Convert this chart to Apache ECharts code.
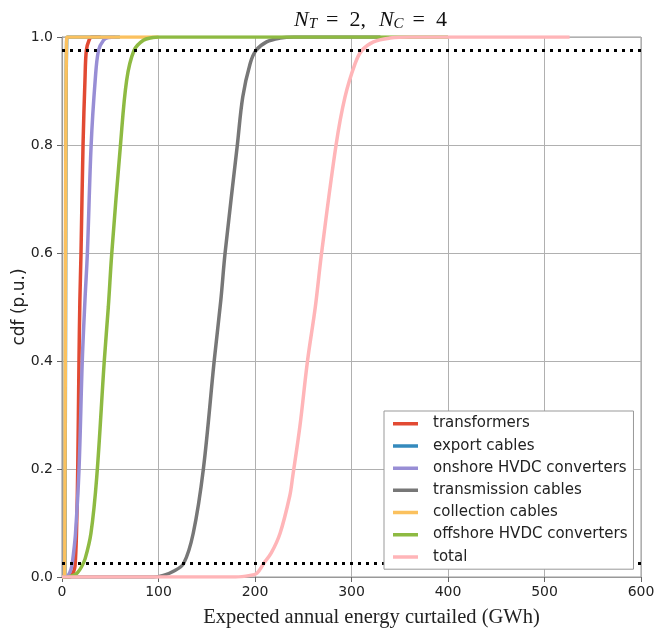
<!DOCTYPE html>
<html>
<head>
<meta charset="utf-8">
<script src="https://cdn.jsdelivr.net/npm/echarts@6/dist/echarts.min.js"></script>
<style>
html,body{margin:0;padding:0;background:#fff;}
#chart{width:654px;height:633px;}
</style>
</head>
<body>
<div id="chart"></div>
<script>
// ---- data (x: GWh, y: cdf) ----
const seriesNames = ['transformers','export cables','onshore HVDC converters','transmission cables','collection cables','offshore HVDC converters','total'];
const seriesColors = ['#E24A33','#348ABD','#988ED5','#777777','#FBC15E','#8EBA42','#FFB5B8'];

const transformers = [[0,0],[8,0],[10,0.003],[12,0.01],[13.5,0.02],[15,0.08],[16.3,0.2],[17.6,0.4],[18.5,0.51],[19.7,0.6],[21.8,0.8],[23.8,0.92],[25.2,0.975],[28,0.994],[31,1],[40,1]];
const exportCables = [[0,0],[2.8,0],[3.3,0.2],[3.8,0.6],[4.3,0.9],[4.8,0.99],[5.5,1],[60,1]];
const onshoreConv = [[0,0],[4,0],[6,0.002],[8,0.008],[10,0.019],[12,0.045],[14,0.081],[17.6,0.198],[21,0.4],[23.8,0.513],[26.3,0.6],[30.2,0.8],[34.4,0.92],[37.8,0.975],[43,0.994],[48,0.999],[55,1]];
const transmission = [[0,0],[95,0],[105,0.003],[115,0.01],[126,0.025],[136,0.081],[146.5,0.2],[157.7,0.4],[164.6,0.513],[169,0.6],[181.7,0.8],[187.3,0.889],[195,0.951],[201,0.975],[212,0.991],[226,0.998],[240,1],[330,1]];
const collection = [[0,0],[2.6,0],[3.0,0.1],[3.4,0.4],[3.8,0.7],[4.2,0.9],[4.6,0.98],[5.2,1],[100,1]];
const offshoreConv = [[0,0],[5,0],[8,0.001],[12,0.003],[16,0.008],[20,0.018],[24,0.034],[30,0.081],[36,0.185],[43.8,0.4],[48,0.5],[51.6,0.6],[60.6,0.8],[67,0.92],[74.6,0.975],[84.3,0.994],[94,0.999],[100,1],[400,1]];
const total = [[0,0],[180,0],[195,0.003],[202,0.007],[209,0.025],[217,0.045],[226,0.081],[236,0.15],[239,0.185],[246.6,0.28],[254.4,0.4],[262.5,0.5],[269,0.6],[284,0.8],[293.3,0.889],[303.8,0.951],[310.7,0.975],[322.8,0.991],[340,0.998],[360,1],[526,1]];

const seriesData = [transformers, exportCables, onshoreConv, transmission, collection, offshoreConv, total];

const lowerBound = [[0,0.025],[600,0.025]];
const upperBound = [[0,0.975],[600,0.975]];

const xTicks = {min:0, max:600, interval:100};
const yTicks = {min:0, max:1, interval:0.2};

const chart = echarts.init(document.getElementById('chart'), null, {renderer:'canvas'});

const series = seriesNames.map((name, i) => ({
  name: name,
  type: 'line',
  data: seriesData[i],
  showSymbol: false,
  symbol: 'none',
  smooth: 0.35,
  color: seriesColors[i],
  lineStyle: {width: 3.5, color: seriesColors[i]},
  z: 2 + i * 0.01,
  animation: false
}));

[lowerBound, upperBound].forEach((d, k) => {
  series.push({
    name: 'bound' + k,
    type: 'line',
    data: d,
    showSymbol: false,
    symbol: 'none',
    color: '#000',
    lineStyle: {width: 3, color: '#000', type: [3, 5]},
    z: 5,
    animation: false
  });
});

const option = {
  backgroundColor: '#fff',
  animation: false,
  grid: {left: 62, right: 13, top: 37, bottom: 56, show: true, borderColor: '#999', borderWidth: 1, containLabel: false, outerBoundsMode: 'none'},
  xAxis: {
    type: 'value', min: xTicks.min, max: xTicks.max, interval: xTicks.interval,
    name: 'Expected annual energy curtailed (GWh)',
    nameLocation: 'middle', nameGap: 30, nameMoveOverlap: false,
    nameTextStyle: {fontFamily: 'Liberation Serif', fontSize: 20.5, color: '#222', padding: [0,0,0,40], verticalAlign: 'top'},
    axisLine: {show: true, lineStyle: {color: '#999', width: 1.2}},
    axisTick: {show: true, inside: false, length: 5, lineStyle: {color: '#666'}},
    axisLabel: {fontFamily: 'DejaVu Sans', fontSize: 14, color: '#222', margin: 8},
    splitLine: {show: true, lineStyle: {color: '#b0b0b0', width: 1}}
  },
  yAxis: {
    type: 'value', min: yTicks.min, max: yTicks.max, interval: yTicks.interval,
    name: 'cdf (p.u.)',
    nameLocation: 'middle', nameGap: 34, nameMoveOverlap: false,
    nameTextStyle: {fontFamily: 'DejaVu Sans', fontSize: 17, color: '#222'},
    axisLine: {show: true, lineStyle: {color: '#999', width: 1.2}},
    axisTick: {show: true, inside: false, length: 5, lineStyle: {color: '#666'}},
    axisLabel: {fontFamily: 'DejaVu Sans', fontSize: 14, color: '#222', margin: 9, formatter: v => v.toFixed(1)},
    splitLine: {show: true, lineStyle: {color: '#b0b0b0', width: 1}}
  },
  legend: {
    data: seriesNames,
    orient: 'vertical',
    left: 384, top: 411,
    padding: [5, 6, 5, 9],
    itemWidth: 35, itemHeight: 14, itemGap: 7.2,
    icon: 'path://M0,0 M0,5.5h25v3.5h-25z M35,14',
    itemStyle: {borderWidth: 0},
    backgroundColor: '#fff',
    borderColor: '#999', borderWidth: 1, borderRadius: 0,
    textStyle: {fontFamily: 'DejaVu Sans', fontSize: 15, color: '#222', lineHeight: 14},
    selectedMode: false,
    z: 10
  },
  graphic: [{
    type: 'text',
    x: 294, y: 20,
    z: 10,
    style: {
      text: '{i|N}{s|T}{g|}{r|=}{g2|}{r|2}{r|,}{g3|}{i|N}{s|C}{g|}{r|=}{g2|}{r|4}',
      align: 'left', verticalAlign: 'middle',
      rich: {
        i: {fontFamily: 'Liberation Serif', fontStyle: 'italic', fontSize: 22, lineHeight: 24, fill: '#111'},
        s: {fontFamily: 'Liberation Serif', fontStyle: 'italic', fontSize: 15, lineHeight: 12, verticalAlign: 'bottom', fill: '#111'},
        r: {fontFamily: 'Liberation Serif', fontSize: 22, lineHeight: 24, fill: '#111'},
        g: {width: 9, lineHeight: 24},
        g2: {width: 11, lineHeight: 24},
        g3: {width: 13, lineHeight: 24}
      }
    }
  }],
  series: series
};
chart.setOption(option);
</script>
</body>
</html>
